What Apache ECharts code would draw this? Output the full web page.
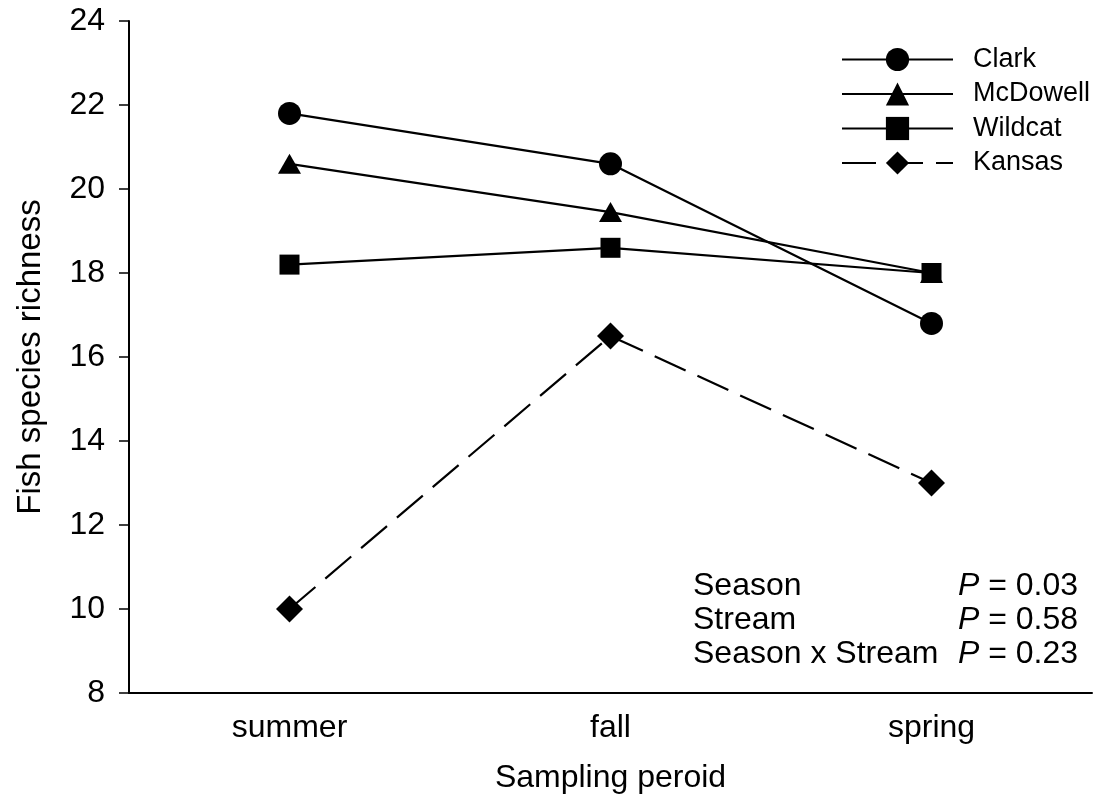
<!DOCTYPE html>
<html>
<head>
<meta charset="utf-8">
<script src="https://cdn.jsdelivr.net/npm/echarts@6/dist/echarts.min.js"></script>
<style>html,body{margin:0;padding:0;background:#fff}#c{width:1094px;height:800px}</style>
</head>
<body>
<div id="c"></div>
<script>
const categories = ['summer', 'fall', 'spring'];
const clark = [21.8, 20.6, 16.8];
const mcdowell = [20.6, 19.45, 18.0];
const wildcat = [18.2, 18.6, 18.0];
const kansas = [10.0, 16.5, 13.0];
const statLabels = ['Season', 'Stream', 'Season x Stream'];
const statPValues = ['0.03', '0.58', '0.23'];

const FONT = '"Liberation Sans", Arial, sans-serif';
const FS = 32;
const chart = echarts.init(document.getElementById('c'), null, {renderer: 'canvas'});

function lineSeries(name, data, symbol, size, dashed) {
  return {
    name: name, type: 'line', data: data,
    symbol: symbol, symbolSize: size, showSymbol: true,
    itemStyle: {color: '#000'},
    lineStyle: {color: '#000', width: 2.2, type: dashed ? [34, 13] : 'solid'},
    emphasis: {disabled: true},
    animation: false
  };
}

const graphics = [];
statLabels.forEach((t, i) => {
  graphics.push({
    type: 'text', x: 693, y: 586 + 34 * i,
    style: {text: t, fontSize: FS, fontFamily: FONT, fill: '#000', align: 'left', verticalAlign: 'middle'}
  });
  graphics.push({
    type: 'text', x: 1078, y: 586 + 34 * i,
    style: {
      text: '{i|P} = ' + statPValues[i],
      fontSize: FS, fontFamily: FONT, fill: '#000', align: 'right', verticalAlign: 'middle',
      rich: {i: {fontStyle: 'italic', fontSize: FS, fontFamily: FONT, fill: '#000'}}
    }
  });
});

chart.setOption({
  animation: false,
  backgroundColor: '#fff',
  grid: {left: 129, right: 2, top: 21, bottom: 107, containLabel: false},
  legend: {
    orient: 'vertical', left: 836, top: 41,
    itemWidth: 111, itemHeight: 29, itemGap: 7.5,
    textStyle: {fontSize: 27, fontFamily: FONT, color: '#000', padding: [0, 0, 0, 15]},
    data: ['Clark', 'McDowell', 'Wildcat', 'Kansas'],
    selectedMode: false
  },
  xAxis: {
    type: 'category', data: categories, boundaryGap: true,
    name: 'Sampling peroid', nameLocation: 'middle', nameGap: 69,
    nameTextStyle: {fontSize: FS, fontFamily: FONT, color: '#000'},
    axisLine: {lineStyle: {color: '#000', width: 2}},
    axisTick: {alignWithLabel: true, length: 10, lineStyle: {color: '#000', width: 1.5}},
    axisLabel: {fontSize: FS, fontFamily: FONT, color: '#000', margin: 19},
    splitLine: {show: false}
  },
  yAxis: {
    type: 'value', min: 8, max: 24, interval: 2,
    name: 'Fish species richness', nameLocation: 'middle', nameGap: 82, nameRotate: 90,
    nameTextStyle: {fontSize: 33, fontFamily: FONT, color: '#000'},
    axisLine: {show: true, lineStyle: {color: '#000', width: 2}},
    axisTick: {show: true, length: 10, lineStyle: {color: '#000', width: 1.5}},
    axisLabel: {fontSize: FS, fontFamily: FONT, color: '#000', margin: 24},
    splitLine: {show: false}
  },
  series: [
    lineSeries('Clark', clark, 'circle', 23, false),
    lineSeries('McDowell', mcdowell, 'triangle', [23, 20], false),
    lineSeries('Wildcat', wildcat, 'rect', 20, false),
    lineSeries('Kansas', kansas, 'diamond', 27, true)
  ],
  graphic: graphics
});
</script>
</body>
</html>
